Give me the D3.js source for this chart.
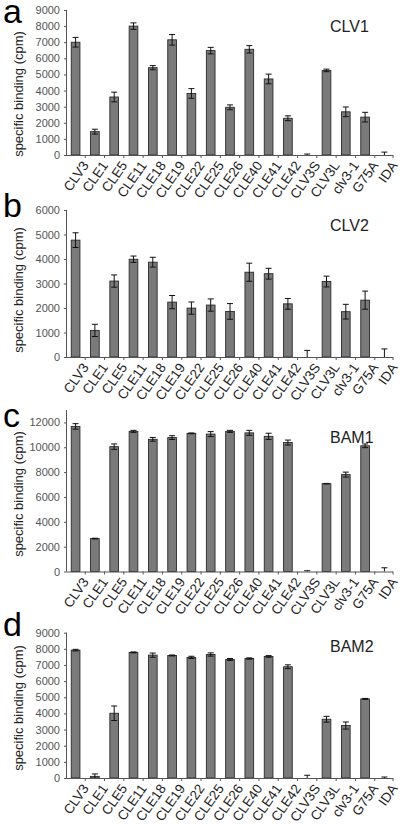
<!DOCTYPE html>
<html><head><meta charset="utf-8">
<script src="https://cdn.jsdelivr.net/npm/d3@7"></script>
<style>body{margin:0;background:#fff}svg{display:block}</style>
</head><body>
<svg id="chart" width="400" height="824"></svg>
<script>
const categories = ["CLV3","CLE1","CLE5","CLE11","CLE18","CLE19","CLE22","CLE25","CLE26","CLE40","CLE41","CLE42","CLV3S","CLV3L","clv3-1","G75A","IDA"];
const clv1 = [7000,1450,3600,8000,5420,7150,3820,6480,2960,6560,4720,2280,0,5250,2680,2350,0];
const clv1Err = [300,150,300,200,130,330,300,200,150,230,300,150,60,80,300,300,180];
const clv2 = [4770,1085,3100,3990,3870,2240,1995,2120,1860,3460,3400,2170,0,3080,1850,2320,0];
const clv2Err = [300,250,250,130,200,270,250,250,320,370,220,220,270,220,300,370,330];
const bam1 = [11680,2650,10050,11280,10640,10780,11120,11060,11280,11160,10880,10380,0,7070,7800,10120,0];
const bam1Err = [220,30,220,80,150,150,30,200,80,200,250,200,60,20,200,150,300];
const bam2 = [7920,100,4010,7780,7610,7590,7470,7650,7340,7400,7530,6890,0,3640,3250,4900,0];
const bam2Err = [50,150,450,30,130,30,70,100,60,40,50,120,170,180,220,30,60];
const ticksA = [0,1000,2000,3000,4000,5000,6000,7000,8000,9000];
const ticksB = [0,1000,2000,3000,4000,5000,6000];
const ticksC = [0,2000,4000,6000,8000,10000,12000];
const ticksD = [0,1000,2000,3000,4000,5000,6000,7000,8000,9000];

const panels = [
  {letter:"a", title:"CLV1", vals:clv1, err:clv1Err, ticks:ticksA, max:9000, yTop:10, y0:155, letterY:23, titleY:32, labelY:94},
  {letter:"b", title:"CLV2", vals:clv2, err:clv2Err, ticks:ticksB, max:6000, yTop:210, y0:357, letterY:217, titleY:231, labelY:290},
  {letter:"c", title:"BAM1", vals:bam1, err:bam1Err, ticks:ticksC, max:13000, yTop:410, y0:571.5, letterY:427, titleY:443, labelY:494},
  {letter:"d", title:"BAM2", vals:bam2, err:bam2Err, ticks:ticksD, max:9000, yTop:632.7, y0:778, letterY:636, titleY:652, labelY:708}
];

const svg = d3.select("#chart");
const xL = 67, xR = 393;
const font = "Arial, 'Liberation Sans', sans-serif";

panels.forEach(p => {
  const g = svg.append("g");
  const x = d3.scaleBand().domain(categories).range([xL, xR]).paddingInner(0.55).paddingOuter(0.22);
  const y = d3.scaleLinear().domain([0, p.max]).range([p.y0, p.yTop]);

  // y axis
  const ya = g.append("g").attr("transform", `translate(${xL},0)`)
    .call(d3.axisLeft(y).tickValues(p.ticks).tickSize(3).tickPadding(4).tickFormat(d3.format("d")));
  ya.select(".domain").attr("stroke", "#555").attr("d", `M-0.5,${p.yTop}V${p.y0}`);
  ya.selectAll(".tick line").attr("stroke", "#555");
  ya.selectAll("text").attr("font-family", font).attr("font-size", 11).attr("fill", "#555");

  // bars
  g.selectAll("rect.bar").data(p.vals).enter().append("rect")
    .attr("x", (d,i) => x(categories[i]))
    .attr("y", d => y(d))
    .attr("width", x.bandwidth())
    .attr("height", d => Math.max(0, p.y0 - y(d)))
    .attr("fill", "#7a7a7a").attr("stroke", "#2a2a2a").attr("stroke-width", 0.9);

  // error bars
  p.vals.forEach((v, i) => {
    const cx = x(categories[i]) + x.bandwidth()/2;
    const lo = Math.max(0, v - p.err[i]), hi = v + p.err[i];
    const e = g.append("g").attr("stroke", "#111").attr("stroke-width", 1);
    e.append("line").attr("x1", cx).attr("x2", cx).attr("y1", y(lo)).attr("y2", y(hi));
    e.append("line").attr("x1", cx-3).attr("x2", cx+3).attr("y1", y(hi)).attr("y2", y(hi));
    if (v - p.err[i] > 0) e.append("line").attr("x1", cx-3).attr("x2", cx+3).attr("y1", y(lo)).attr("y2", y(lo));
  });

  // x axis
  g.append("line").attr("x1", xL).attr("x2", xR).attr("y1", p.y0+0.5).attr("y2", p.y0+0.5).attr("stroke", "#555");
  const step = x.step();
  categories.forEach((c, i) => {
    const bx = x(c) - step*0.275;
    if (i > 0) g.append("line").attr("x1", bx).attr("x2", bx).attr("y1", p.y0).attr("y2", p.y0+3).attr("stroke", "#555");
  });
  g.append("line").attr("x1", xR).attr("x2", xR).attr("y1", p.y0).attr("y2", p.y0+3).attr("stroke", "#555");
  g.selectAll("text.xl").data(categories).enter().append("text")
    .attr("transform", d => `translate(${x(d)+x.bandwidth()/2+6},${p.y0+5}) rotate(-55)`)
    .attr("text-anchor", "end").attr("dy", "0.7em")
    .attr("font-family", font).attr("font-size", 13.5).attr("fill", "#222")
    .text(d => d);

  // y label
  g.append("text").attr("transform", `translate(23,${p.labelY}) rotate(-90)`)
    .attr("text-anchor", "middle").attr("font-family", font).attr("font-size", 13).attr("fill", "#222")
    .text("specific binding (cpm)");

  // letter
  g.append("text").attr("x", 3).attr("y", p.letterY).attr("font-family", font).attr("font-size", 34).attr("fill", "#000").text(p.letter);
  // title
  g.append("text").attr("x", 330).attr("y", p.titleY).attr("font-family", font).attr("font-size", 16).attr("fill", "#222").text(p.title);
});
</script>
</body></html>
